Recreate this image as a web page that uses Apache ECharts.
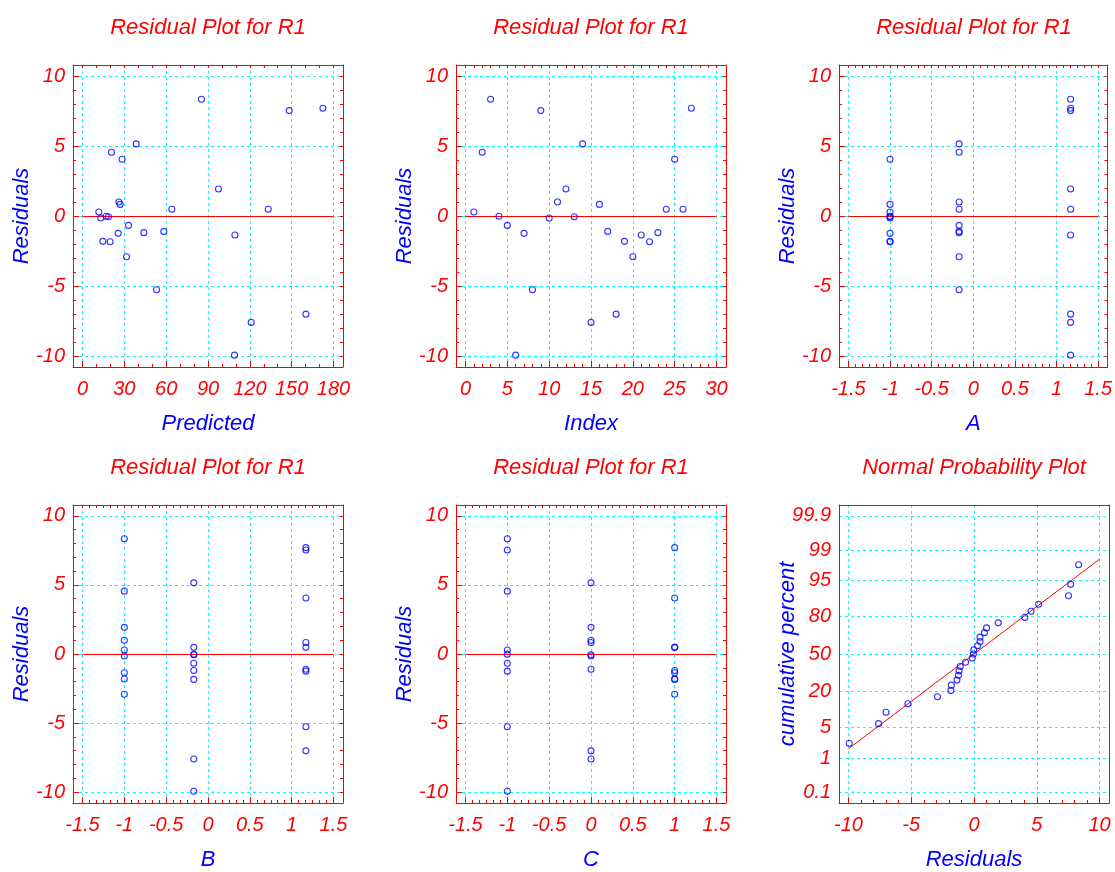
<!DOCTYPE html>
<html><head><meta charset="utf-8">
<script src="https://cdn.jsdelivr.net/npm/echarts@6/dist/echarts.min.js"></script>
<style>html,body{margin:0;padding:0;background:#fff}#c{width:1115px;height:872px}</style>
</head><body><div id="c"></div>
<script>
// ---------------- data ----------------
const runIndex  = [1,2,3,4,5,6,7,8,9,10,11,12,13,14,15,16,17,18,19,20,21,22,23,24,25,26,27];
const residuals = [0.29,4.55,8.34,-0.02,-0.67,-9.94,-1.24,-5.27,7.53,-0.14,1.00,1.93,-0.05,5.15,-7.60,0.83,-1.10,-7.01,-1.81,-2.91,-1.36,-1.84,-1.19,0.48,4.05,0.48,7.70];
const predicted = [11.7,20.8,85.3,17.0,33.0,109.0,25.6,53.1,148.2,13.1,26.1,97.5,18.6,38.5,121.0,27.0,58.3,160.2,14.6,31.6,109.3,19.8,44.0,133.2,28.4,64.1,172.4];
const factorA = [-1,-0.17,1.17,-1,-0.17,1.17,-1,-0.17,1.17,-1,-0.17,1.17,-1,-0.17,1.17,-1,-0.17,1.17,-1,-0.17,1.17,-1,-0.17,1.17,-1,-0.17,1.17];
const factorB = [-1,-1,-1,-0.17,-0.17,-0.17,1.17,1.17,1.17,-1,-1,-1,-0.17,-0.17,-0.17,1.17,1.17,1.17,-1,-1,-1,-0.17,-0.17,-0.17,1.17,1.17,1.17];
const factorC = [-1,-1,-1,-1,-1,-1,-1,-1,-1,0,0,0,0,0,0,0,0,0,1,1,1,1,1,1,1,1,1];
// normal probability plot
const sortedResiduals = [-9.94,-7.60,-7.01,-5.27,-2.91,-1.84,-1.81,-1.36,-1.24,-1.19,-1.10,-0.67,-0.14,-0.05,-0.02,0.29,0.48,0.48,0.83,1.00,1.93,4.05,4.55,5.15,7.53,7.70,8.34];
const cumPercent = [2.29,5.96,9.63,13.30,16.97,20.64,24.31,27.98,31.65,35.32,38.99,42.66,46.33,50.00,53.67,57.34,61.01,64.68,68.35,72.02,75.69,79.36,83.03,86.70,90.37,94.04,97.71];
const fitX = [-10, 10];
const fitPercent = [1.7, 98.3];
// tick labels
const ticksPredicted = [0,30,60,90,120,150,180];
const ticksIndex = [0,5,10,15,20,25,30];
const ticksFactor = [-1.5,-1,-0.5,0,0.5,1,1.5];
const ticksResid = [-10,-5,0,5,10];
const ticksProbX = [-10,-5,0,5,10];
const ticksProb = [0.1,1,5,20,50,80,95,99,99.9];

// ---------------- helpers ----------------
function probit(p) {
  const a=[-3.969683028665376e+01,2.209460984245205e+02,-2.759285104469687e+02,1.383577518672690e+02,-3.066479806614716e+01,2.506628277459239e+00];
  const b=[-5.447609879822406e+01,1.615858368580409e+02,-1.556989798598866e+02,6.680131188771972e+01,-1.328068155288572e+01];
  const c=[-7.784894002430293e-03,-3.223964580411365e-01,-2.400758277161838e+00,-2.549732539343734e+00,4.374664141464968e+00,2.938163982698783e+00];
  const d=[7.784695709041462e-03,3.224671290700398e-01,2.445134137142996e+00,3.754408661907416e+00];
  const pl=0.02425, ph=1-pl; let q, r;
  if (p < pl) { q=Math.sqrt(-2*Math.log(p)); return (((((c[0]*q+c[1])*q+c[2])*q+c[3])*q+c[4])*q+c[5])/((((d[0]*q+d[1])*q+d[2])*q+d[3])*q+1); }
  if (p <= ph) { q=p-0.5; r=q*q; return (((((a[0]*r+a[1])*r+a[2])*r+a[3])*r+a[4])*r+a[5])*q/(((((b[0]*r+b[1])*r+b[2])*r+b[3])*r+b[4])*r+1); }
  q=Math.sqrt(-2*Math.log(1-p)); return -(((((c[0]*q+c[1])*q+c[2])*q+c[3])*q+c[4])*q+c[5])/((((d[0]*q+d[1])*q+d[2])*q+d[3])*q+1);
}
function steps(lo, hi, step) { const out=[]; const n=Math.round((hi-lo)/step); for (let i=0;i<=n;i++) out.push(+(lo+i*step).toFixed(6)); return out; }
function range(lo, hi, pad) { const s=(hi-lo)*pad; return [lo-s, hi+s]; }
function pairs(xs, ys) { return xs.map((x,i)=>[x, ys[i]]); }

const RED='#ff0000', BLUE='#0000ff', CYAN='#00ffff';
const FONT='Liberation Sans';
const tb={fontFamily:FONT, fontStyle:'italic', fontWeight:'normal'};
const W=270, H=302, XPAD=0.0378, YPAD=0.0393;

const option={animation:false, backgroundColor:'#fff', title:[], grid:[], xAxis:[], yAxis:[], series:[]};

function baseAxis(g, min, max, pos) {
  return {type:'value', gridIndex:g, min:min, max:max, position:pos, silent:true,
    axisLine:{show:false, onZero:false}, axisTick:{show:false}, axisLabel:{show:false}, splitLine:{show:false}};
}
function tick(values, len) { return {show:true, inside:true, length:len, customValues:values, lineStyle:{color:RED, width:1}}; }
const frameLine={show:true, onZero:false, lineStyle:{color:RED, width:1}};
const gridDash={show:true, lineStyle:{color:CYAN, type:[3,3], width:1}};

function addPanel(p) {
  const g=option.grid.length;
  option.grid.push({left:p.left, top:p.top, width:W, height:H});
  option.title.push({text:p.title, left:p.left+W/2, top:p.top-48, textAlign:'center', padding:0,
    textStyle:Object.assign({color:RED, fontSize:22}, tb)});
  const xr=range(p.xMajor[0], p.xMajor[p.xMajor.length-1], XPAD);
  const yr=range(p.yMajor[0], p.yMajor[p.yMajor.length-1], YPAD);
  const xi=option.xAxis.length, yi=option.yAxis.length;
  // bottom main x axis
  const xl={show:true, customValues:p.xMajor, margin:12, color:RED, fontSize:20};
  Object.assign(xl, tb);
  option.xAxis.push(Object.assign(baseAxis(g, xr[0], xr[1], 'bottom'), {
    axisLine:frameLine, axisTick:tick(p.xMajor, 6), axisLabel:xl, splitLine:gridDash,
    name:p.xName, nameLocation:'middle', nameGap:46, nameMoveOverlap:false,
    nameTextStyle:Object.assign({color:BLUE, fontSize:22}, tb)}));
  option.xAxis.push(Object.assign(baseAxis(g, xr[0], xr[1], 'bottom'), {axisTick:tick(p.xMinor, 3)}));
  option.xAxis.push(Object.assign(baseAxis(g, xr[0], xr[1], 'top'), {axisLine:frameLine}, p.box ? {axisTick:tick(p.xMinor, 3)} : {}));
  // left main y axis
  const yl={show:true, customValues:p.yMajor, margin:8, color:RED, fontSize:20};
  Object.assign(yl, tb);
  if (p.yFmt) yl.formatter=p.yFmt;
  option.yAxis.push(Object.assign(baseAxis(g, yr[0], yr[1], 'left'), {
    axisLine:frameLine, axisTick: p.box ? tick(p.yMajor, 6) : {show:false, customValues:p.yMajor}, axisLabel:yl, splitLine:gridDash,
    name:p.yName, nameLocation:'middle', nameGap:p.yNameGap, nameMoveOverlap:false,
    nameTextStyle:Object.assign({color:BLUE, fontSize:22}, tb)}));
  if (p.box) option.yAxis.push(Object.assign(baseAxis(g, yr[0], yr[1], 'left'), {axisTick:tick(p.yMinor, 3)}));
  option.yAxis.push(Object.assign(baseAxis(g, yr[0], yr[1], 'right'), {axisLine:frameLine}, p.box ? {axisTick:tick(p.yMinor, 3)} : {}));
  // series
  const sc={type:'scatter', xAxisIndex:xi, yAxisIndex:yi, data:p.data, symbol:'circle', symbolSize:6, silent:true,
    itemStyle:{color:'rgba(0,0,0,0)', borderColor:BLUE, borderWidth:1.1}, z:5};
  if (p.zeroLine) {
    sc.markLine={silent:true, symbol:['none','none'], label:{show:false}, animation:false,
      lineStyle:{color:RED, type:'solid', width:1},
      data:[[{coord:[p.xMajor[0],0]},{coord:[p.xMajor[p.xMajor.length-1],0]}]]};
  }
  option.series.push(sc);
  if (p.fit) {
    option.series.push({type:'line', xAxisIndex:xi, yAxisIndex:yi, data:p.fit, symbol:'none', silent:true,
      lineStyle:{color:RED, width:1}, z:4});
  }
}

const yMinor=steps(-10,10,1);
const panelTitle='Residual Plot for R1';
addPanel({left:73, top:65, title:panelTitle, xMajor:ticksPredicted, xMinor:steps(0,180,10), yMajor:ticksResid, yMinor:yMinor,
  xName:'Predicted', yName:'Residuals', yNameGap:40, box:true, zeroLine:true, data:pairs(predicted, residuals)});
addPanel({left:456, top:65, title:panelTitle, xMajor:ticksIndex, xMinor:steps(0,30,1), yMajor:ticksResid, yMinor:yMinor,
  xName:'Index', yName:'Residuals', yNameGap:40, box:true, zeroLine:true, data:pairs(runIndex, residuals)});
addPanel({left:839, top:65, title:panelTitle, xMajor:ticksFactor, xMinor:steps(-1.5,1.5,0.5/6), yMajor:ticksResid, yMinor:yMinor,
  xName:'A', yName:'Residuals', yNameGap:40, box:true, zeroLine:true, data:pairs(factorA, residuals)});
addPanel({left:73, top:505, title:panelTitle, xMajor:ticksFactor, xMinor:steps(-1.5,1.5,0.5/6), yMajor:ticksResid, yMinor:yMinor,
  xName:'B', yName:'Residuals', yNameGap:40, box:true, zeroLine:true, data:pairs(factorB, residuals)});
addPanel({left:456, top:505, title:panelTitle, xMajor:ticksFactor, xMinor:steps(-1.5,1.5,0.5/6), yMajor:ticksResid, yMinor:yMinor,
  xName:'C', yName:'Residuals', yNameGap:40, box:true, zeroLine:true, data:pairs(factorC, residuals)});
const probZ=ticksProb.map(v=>probit(v/100));
addPanel({left:839, top:505, title:'Normal Probability Plot', xMajor:ticksProbX, xMinor:steps(-10,10,1), yMajor:probZ,
  yFmt:function(v){ for (let i=0;i<probZ.length;i++) if (Math.abs(probZ[i]-v)<1e-6) return String(ticksProb[i]); return ''; },
  xName:'Residuals', yName:'cumulative percent', yNameGap:40, box:false, zeroLine:false,
  data:pairs(sortedResiduals, cumPercent.map(v=>probit(v/100))),
  fit:pairs(fitX, fitPercent.map(v=>probit(v/100)))});

const chart=echarts.init(document.getElementById('c'), null, {renderer:'canvas'});
chart.setOption(option);
</script>
</body></html>
